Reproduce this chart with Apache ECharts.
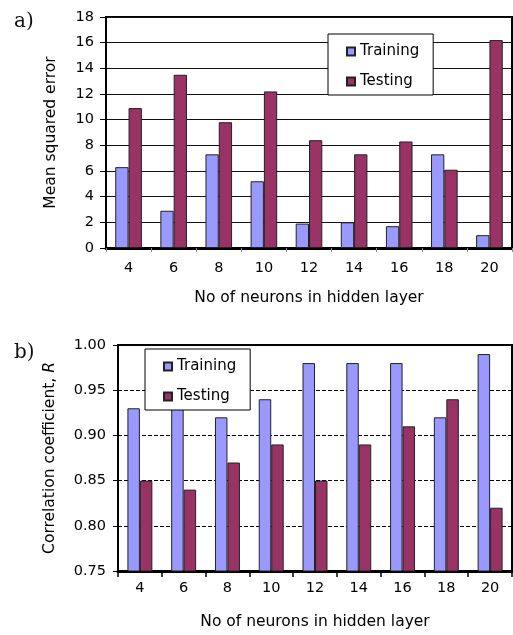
<!DOCTYPE html>
<html>
<head>
<meta charset="utf-8">
<script src="https://cdn.jsdelivr.net/npm/echarts@6/dist/echarts.min.js"></script>
<style>
html,body{margin:0;padding:0;background:#fff;}
#c{width:513px;height:635px;}
</style>
</head>
<body>
<div id="c"></div>
<script>
const categories = ['4', '6', '8', '10', '12', '14', '16', '18', '20'];
const mseTraining = [6.3, 2.9, 7.3, 5.2, 1.9, 2.0, 1.7, 7.3, 1.0];
const mseTesting = [10.9, 13.5, 9.8, 12.2, 8.4, 7.3, 8.3, 6.1, 16.2];
const rTraining = [0.93, 0.93, 0.92, 0.94, 0.98, 0.98, 0.98, 0.92, 0.99];
const rTesting = [0.85, 0.84, 0.87, 0.89, 0.85, 0.89, 0.91, 0.94, 0.82];
const mseTicks = {min: 0, max: 18, interval: 2};
const rTicks = {min: 0.75, max: 1.0, interval: 0.05};
const seriesNames = ['Training', 'Testing'];

const FONT = 'DejaVu Sans';
const C_TRAIN = '#9999FF';
const C_TEST = '#993366';

const chart = echarts.init(document.getElementById('c'), null, {renderer: 'canvas'});

function legend(left, top) {
  return {
    orient: 'vertical', left: left, top: top,
    data: seriesNames,
    backgroundColor: '#fff', borderColor: '#000', borderWidth: 1,
    padding: [10, 14, 6, 18],
    itemWidth: 8, itemHeight: 8, itemGap: 15,
    textStyle: {fontFamily: FONT, fontSize: 15, color: '#000'},
    icon: 'rect', selectedMode: false, z: 10
  };
}

const option = {
  animation: false,
  backgroundColor: '#fff',
  textStyle: {fontFamily: FONT},
  graphic: [
    {type: 'text', left: 14, top: 12, style: {text: 'a)', font: '20px "DejaVu Serif"', fill: '#111'}},
    {type: 'text', left: 14, top: 343, style: {text: 'b)', font: '20px "DejaVu Serif"', fill: '#111'}}
  ],
  legend: [legend(328, 34), legend(145, 349)],
  grid: [
    {left: 106, top: 17, right: 1, height: 231, show: true, borderColor: '#000', borderWidth: 2, backgroundColor: '#fff'},
    {left: 118, top: 345, right: 1, height: 226, show: true, borderColor: '#000', borderWidth: 2, backgroundColor: '#fff'}
  ],
  xAxis: [
    {
      type: 'category', gridIndex: 0, data: categories,
      name: 'No of neurons in hidden layer', nameLocation: 'middle', nameGap: 42,
      nameTextStyle: {fontFamily: FONT, fontSize: 15.5, color: '#000'},
      axisLine: {lineStyle: {color: '#000', width: 3}},
      axisTick: {show: true, interval: 0, length: 4, lineStyle: {color: '#888'}},
      axisLabel: {interval: 0, margin: 13, fontFamily: FONT, fontSize: 14.5, color: '#000'}
    },
    {
      type: 'category', gridIndex: 1, data: categories,
      name: 'No of neurons in hidden layer', nameLocation: 'middle', nameGap: 43,
      nameTextStyle: {fontFamily: FONT, fontSize: 15.5, color: '#000'},
      axisLine: {lineStyle: {color: '#000', width: 3}},
      axisTick: {show: true, interval: 0, length: 6, lineStyle: {color: '#000', width: 1.5}},
      axisLabel: {interval: 0, margin: 10, fontFamily: FONT, fontSize: 14.5, color: '#000'}
    }
  ],
  yAxis: [
    {
      type: 'value', gridIndex: 0, min: mseTicks.min, max: mseTicks.max, interval: mseTicks.interval,
      name: 'Mean squared error', nameLocation: 'middle', nameGap: 47,
      nameTextStyle: {fontFamily: FONT, fontSize: 15.5, color: '#000'},
      axisLine: {show: true, lineStyle: {color: '#000', width: 2}},
      axisTick: {show: true, length: 6, lineStyle: {color: '#000'}},
      axisLabel: {margin: 12, fontFamily: FONT, fontSize: 14.5, color: '#000'},
      splitLine: {show: true, lineStyle: {color: '#111', width: 1, type: 'solid'}}
    },
    {
      type: 'value', gridIndex: 1, min: rTicks.min, max: rTicks.max, interval: rTicks.interval,
      name: 'Correlation coefficient, {i|R}', nameLocation: 'middle', nameGap: 60,
      nameTextStyle: {fontFamily: FONT, fontSize: 15.5, color: '#000',
        rich: {i: {fontFamily: FONT, fontSize: 15.5, fontStyle: 'italic', color: '#000'}}},
      axisLine: {show: true, lineStyle: {color: '#000', width: 2}},
      axisTick: {show: true, length: 5, lineStyle: {color: '#000'}},
      axisLabel: {margin: 12, fontFamily: FONT, fontSize: 14.5, color: '#000',
        formatter: v => v.toFixed(2)},
      splitLine: {show: true, lineStyle: {color: '#000', width: 1, type: [4, 2]}}
    }
  ],
  series: [
    {name: 'Training', type: 'bar', xAxisIndex: 0, yAxisIndex: 0, data: mseTraining,
      barGap: '0%', barCategoryGap: '41%',
      itemStyle: {color: C_TRAIN, borderColor: '#222', borderWidth: 1}},
    {name: 'Testing', type: 'bar', xAxisIndex: 0, yAxisIndex: 0, data: mseTesting,
      barGap: '0%', barCategoryGap: '41%',
      itemStyle: {color: C_TEST, borderColor: '#222', borderWidth: 1}},
    {name: 'Training', type: 'bar', xAxisIndex: 1, yAxisIndex: 1, data: rTraining,
      barGap: '0%', barCategoryGap: '43%',
      itemStyle: {color: C_TRAIN, borderColor: '#222', borderWidth: 1}},
    {name: 'Testing', type: 'bar', xAxisIndex: 1, yAxisIndex: 1, data: rTesting,
      barGap: '0%', barCategoryGap: '43%',
      itemStyle: {color: C_TEST, borderColor: '#222', borderWidth: 1}}
  ]
};
chart.setOption(option);
</script>
</body>
</html>
